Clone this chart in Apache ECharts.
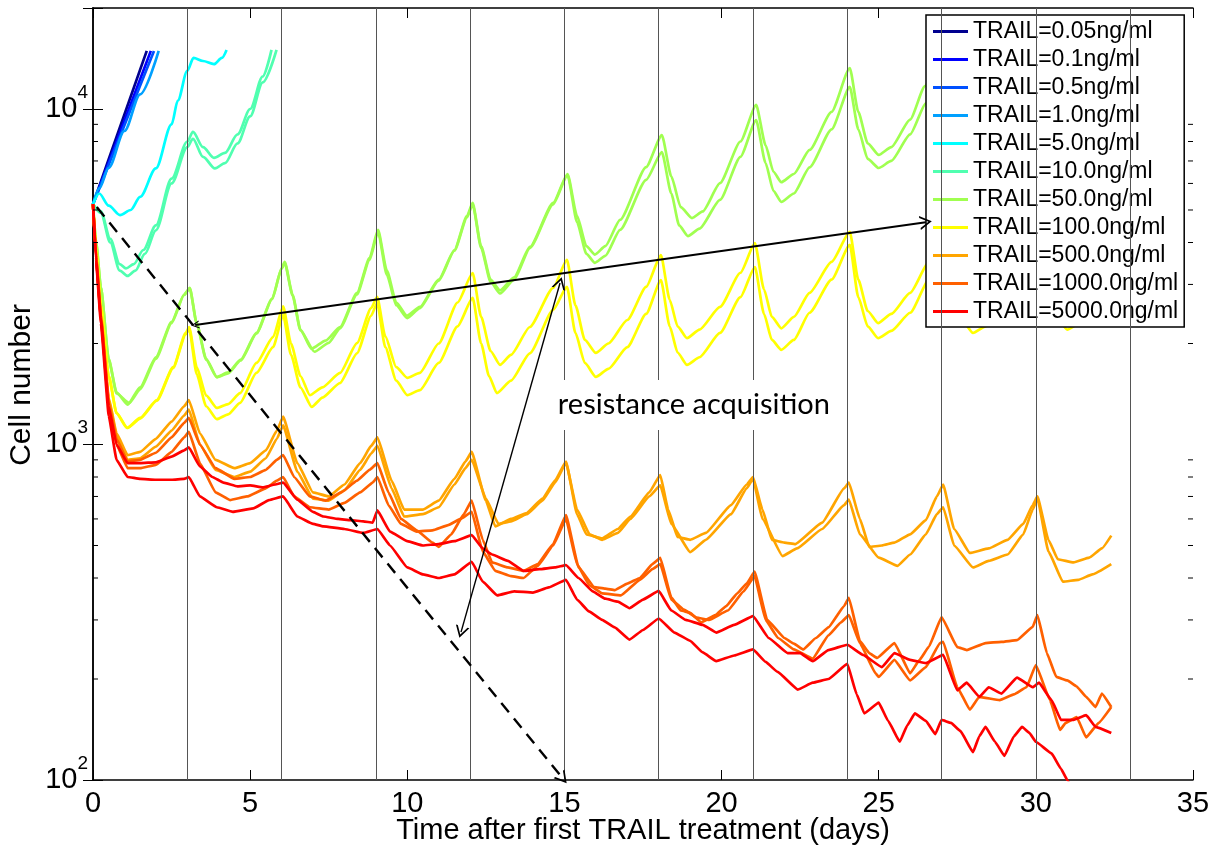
<!DOCTYPE html>
<html><head><meta charset="utf-8">
<script src="https://cdn.jsdelivr.net/npm/echarts@6/dist/echarts.min.js"></script>
<style>html,body{margin:0;padding:0;background:#fff}#c{width:1217px;height:845px}</style>
</head><body><div id="c"></div>
<script>
// ---------- labels / categories ----------
const legendNames = ['TRAIL=0.05ng/ml','TRAIL=0.1ng/ml','TRAIL=0.5ng/ml','TRAIL=1.0ng/ml','TRAIL=5.0ng/ml','TRAIL=10.0ng/ml','TRAIL=50.0ng/ml','TRAIL=100.0ng/ml','TRAIL=500.0ng/ml','TRAIL=1000.0ng/ml','TRAIL=5000.0ng/ml'];
const legendColors = ['#00008F','#0000FF','#0050FF','#00A0FF','#00FFFF','#50FFB0','#A0FF50','#FFFF00','#FFA500','#FF6000','#FF0000'];
const treatmentDays = [3,6,9,12,15,18,21,24,27,30,33];
const minorTickValues = [200,300,400,500,600,700,800,900,2000,3000,4000,5000,6000,7000,8000,9000];
const xTickInterval = 5;

// ---------- series values: [days, cell number] ----------
const trail005 = [[0,5200],[0.5,7080],[1.0,9630],[1.5,13100],[1.71,14900]];
const trail01  = [[0,5200],[0.5,6930],[1.0,9220],[1.5,12270],[1.84,14900]];
const trail05  = [[0,5200],[0.5,6820],[1.0,8950],[1.5,11740],[1.94,14900]];
const trail1   = [[0,5200],[0.2,5800],[0.5,6680],[1.0,8600],[1.5,11060],[2.09,14900]];
const trail5   = [[0,5200],[0.2,5600],[0.5,5150],[0.86,4830],[1.2,5000],[1.5,5470],[2.0,6650],[2.5,9000],[2.7,10600],[3.0,13000],[3.2,14200],[3.5,13900],[3.85,13600],[4.1,14200],[4.25,15000]];
const trail10a = [[0,5200],[0.25,4950],[0.55,4100],[0.85,3450],[1.05,3350],[1.3,3450],[1.6,3800],[2.0,4500],[2.5,6200],[3.0,8000],[3.18,8550],[3.5,7700],[3.85,7150],[4.2,7400],[4.6,8400],[5.0,10000],[5.4,12500],[5.68,15000]];
const trail10b = [[0,5200],[0.25,4900],[0.55,4000],[0.85,3300],[1.1,3180],[1.35,3300],[1.65,3700],[2.0,4350],[2.5,6000],[3.0,7700],[3.18,8150],[3.5,7200],[3.88,6650],[4.2,6900],[4.6,7900],[5.0,9500],[5.4,12000],[5.84,15000]];
const trail50a = [[0,5200],[0.1,4000],[0.25,2950],[0.5,1800],[0.75,1430],[1.1,1315],[1.5,1480],[2.0,1820],[2.5,2320],[2.9,2800],[3.08,2930],[3.3,2300],[3.6,1800],[3.94,1590],[4.3,1640],[4.7,1790],[5.2,2150],[5.7,2720],[6.0,3350],[6.1,3500],[6.35,2800],[6.6,2200],[6.95,1930],[7.4,2040],[7.86,2240],[8.4,2830],[8.8,3600],[9.07,4360],[9.35,3300],[9.65,2650],[9.99,2420],[10.4,2570],[11.0,3100],[11.5,3800],[11.9,4800],[12.08,5250],[12.35,3900],[12.65,3100],[12.95,2880],[13.4,3150],[13.9,3880],[14.64,5250],[15.1,6400],[15.4,4800],[15.7,3900],[15.97,3680],[16.3,3900],[16.77,4670],[17.6,6710],[18.1,8360],[18.4,6300],[18.7,5100],[19.06,4730],[19.4,4950],[19.95,6010],[20.6,8000],[21.1,10280],[21.4,7800],[21.65,6500],[21.9,6050],[22.3,6400],[22.8,7550],[23.5,9800],[24.08,13250],[24.35,9800],[24.65,7900],[25.0,7300],[25.4,7700],[26.0,9300],[26.47,11700],[26.9,15000]];
const trail50b = [[0,5200],[0.1,4000],[0.25,2950],[0.5,1790],[0.75,1420],[1.15,1330],[1.5,1460],[2.0,1800],[2.5,2300],[2.9,2790],[3.08,2920],[3.3,2290],[3.6,1790],[3.94,1585],[4.3,1630],[4.7,1780],[5.2,2140],[5.7,2710],[6.0,3340],[6.1,3480],[6.35,2780],[6.6,2190],[7.05,1890],[7.5,2010],[7.86,2220],[8.4,2800],[8.8,3550],[9.07,4300],[9.35,3200],[9.65,2600],[10.0,2380],[10.4,2550],[11.0,3080],[11.5,3780],[11.9,4750],[12.08,5200],[12.35,3850],[12.65,3050],[12.95,2820],[13.4,3100],[13.9,3850],[14.64,5200],[15.1,6350],[15.4,4600],[15.7,3700],[15.97,3480],[16.3,3650],[16.77,4360],[17.6,6150],[18.1,7440],[18.4,5600],[18.65,4500],[18.93,4180],[19.3,4400],[19.95,5360],[20.6,7200],[21.1,9270],[21.4,6900],[21.65,5700],[21.9,5285],[22.3,5600],[22.8,6700],[23.5,8700],[24.08,11640],[24.35,8700],[24.65,7100],[25.0,6670],[25.4,7000],[26.0,8400],[26.5,10400],[27.05,14000]];
const trail100a = [[0,5200],[0.1,3800],[0.25,2600],[0.5,1600],[0.75,1240],[1.08,1120],[1.5,1200],[2.03,1357],[2.55,1700],[2.95,2150],[3.06,2240],[3.3,1700],[3.6,1400],[3.94,1285],[4.3,1320],[4.68,1423],[5.2,1750],[5.73,2090],[6.05,2580],[6.3,2000],[6.6,1600],[6.9,1403],[7.3,1480],[7.86,1634],[8.4,2006],[8.85,2550],[9.04,2755],[9.3,2100],[9.65,1700],[10.0,1580],[10.4,1634],[11.0,2000],[11.6,2650],[12.08,3245],[12.35,2400],[12.65,1900],[12.95,1727],[13.3,1850],[13.9,2240],[14.64,2930],[15.08,3550],[15.35,2600],[15.65,2050],[16.0,1875],[16.4,2000],[17.0,2350],[17.6,2950],[18.07,3670],[18.35,2700],[18.6,2250],[18.9,2075],[19.3,2200],[19.95,2570],[20.6,3250],[21.06,3985],[21.35,2900],[21.6,2400],[21.9,2220],[22.3,2400],[22.8,2830],[23.5,3500],[24.08,4300],[24.35,3100],[24.65,2500],[24.98,2300],[25.4,2450],[26.0,2830],[26.6,3500],[27.08,4500],[27.35,3300],[27.65,2700],[28.0,2450],[28.4,2600],[29.0,3000],[29.6,3700],[30.08,4700],[30.35,3400],[30.65,2800],[31.0,2550],[31.4,2700],[32.0,3100],[32.4,3400]];
const trail100b = [[0,5200],[0.1,3800],[0.25,2600],[0.5,1600],[0.75,1240],[1.1,1120],[1.5,1195],[2.03,1350],[2.55,1690],[2.95,2130],[3.06,2210],[3.3,1620],[3.6,1300],[3.94,1190],[4.3,1230],[4.68,1330],[5.2,1635],[5.73,1950],[6.05,2430],[6.3,1850],[6.6,1480],[6.96,1294],[7.3,1380],[7.86,1525],[8.4,1870],[8.85,2420],[9.04,2640],[9.3,1950],[9.65,1550],[10.0,1403],[10.4,1452],[11.0,1750],[11.6,2250],[12.08,2735],[12.35,2000],[12.6,1600],[12.85,1423],[13.3,1550],[13.9,1870],[14.64,2520],[15.08,2950],[15.35,2150],[15.65,1750],[16.0,1590],[16.4,1680],[17.0,1950],[17.6,2450],[18.07,3090],[18.35,2250],[18.6,1880],[18.9,1727],[19.3,1820],[19.95,2150],[20.6,2750],[21.06,3380],[21.35,2450],[21.6,2050],[21.9,1915],[22.3,2050],[22.8,2470],[23.5,3100],[24.08,3935],[24.35,2750],[24.65,2250],[24.98,2075],[25.4,2180],[26.0,2470],[26.6,3100],[27.08,3900],[27.35,2850],[27.65,2350],[28.0,2150],[28.4,2250],[29.0,2600],[29.6,3200],[30.08,4100],[30.35,2950],[30.65,2400],[31.0,2200],[31.4,2300],[32.0,2650],[32.4,2900]];
const trail500a = [[0,5200],[0.1,3650],[0.25,2450],[0.5,1380],[0.75,1080],[1.1,930],[1.5,950],[2.0,1040],[2.5,1170],[2.9,1300],[3.05,1357],[3.4,1080],[3.9,900],[4.5,850],[5.0,880],[5.5,960],[5.85,1100],[6.05,1210],[6.5,880],[7.0,720],[7.5,700],[8.0,760],[8.5,880],[8.85,990],[9.05,1050],[9.5,780],[9.9,640],[10.5,640],[11.0,680],[11.5,790],[11.85,890],[12.05,950],[12.5,680],[12.8,570],[13.3,600],[13.8,625],[14.3,690],[14.7,780],[15.05,890],[15.4,620],[15.7,540],[16.2,525],[16.7,560],[17.1,610],[17.7,720],[18.05,811],[18.3,640],[18.6,530],[19.0,520],[19.5,545],[20.3,660],[20.8,760],[21.0,800],[21.3,640],[21.6,520],[22.0,510],[22.35,505],[23.2,585],[23.9,740],[24.05,770],[24.4,600],[24.7,495],[25.1,500],[25.5,510],[26.0,540],[26.5,595],[26.85,700],[27.05,760],[27.4,560],[27.9,475],[28.5,490],[29.1,520],[29.6,580],[29.9,660],[30.05,700],[30.4,520],[30.7,455],[31.2,445],[31.7,460],[32.1,490],[32.4,535]];
const trail500b = [[0,5200],[0.1,3650],[0.25,2440],[0.5,1360],[0.75,1060],[1.1,900],[1.5,910],[2.0,985],[2.5,1100],[2.9,1220],[3.05,1270],[3.4,1000],[3.9,840],[4.5,800],[5.0,830],[5.5,910],[5.85,1040],[6.05,1140],[6.5,830],[7.0,690],[7.5,680],[8.0,730],[8.5,840],[8.85,940],[9.05,990],[9.5,740],[9.9,610],[10.5,620],[11.0,650],[11.5,760],[11.85,850],[12.05,900],[12.5,690],[12.9,580],[13.3,590],[13.8,620],[14.3,680],[14.7,770],[15.05,880],[15.4,640],[15.8,540],[16.2,520],[16.7,545],[17.1,600],[17.7,700],[18.05,755],[18.4,580],[19.0,478],[19.5,520],[20.3,620],[20.8,740],[21.0,790],[21.3,600],[21.94,465],[22.4,490],[23.2,560],[23.9,660],[24.05,685],[24.4,540],[25.0,460],[25.6,435],[26.0,470],[26.5,540],[26.85,620],[27.05,650],[27.4,500],[28.0,430],[28.5,450],[29.1,470],[29.6,540],[29.9,640],[30.05,690],[30.4,480],[30.86,390],[31.35,395],[31.8,410],[32.4,440]];
const trail1000a = [[0,5200],[0.1,3600],[0.25,2420],[0.5,1340],[0.75,1040],[1.1,890],[1.5,900],[2.0,945],[2.5,1050],[2.9,1160],[3.05,1200],[3.4,1000],[3.9,850],[4.5,790],[5.0,800],[5.5,840],[5.85,900],[6.05,930],[6.4,800],[6.9,700],[7.4,680],[7.9,720],[8.4,780],[8.8,840],[9.05,880],[9.4,720],[9.8,600],[10.3,555],[10.8,510],[11.0,495],[11.4,540],[11.8,620],[12.05,680],[12.4,520],[12.7,445],[13.2,430],[13.7,420],[14.15,440],[14.64,505],[15.05,616],[15.45,430],[15.95,376],[16.3,372],[16.6,368],[17.0,385],[17.4,400],[17.8,440],[18.05,459],[18.4,350],[18.7,320],[19.0,315],[19.35,295],[19.8,310],[20.15,330],[20.5,360],[20.8,385],[21.05,418],[21.45,300],[22.0,265],[22.3,255],[22.6,245],[23.0,265],[23.4,285],[23.9,330],[24.05,349],[24.4,260],[24.7,239],[24.95,231],[25.5,256],[26.0,208],[26.3,228],[26.6,250],[27.0,306],[27.5,249],[27.8,244],[28.4,256],[28.9,258],[29.4,261],[29.9,286],[30.05,310],[30.35,239],[30.65,203],[31.0,198],[31.3,190],[31.6,177],[31.9,165],[32.1,181],[32.4,165]];
const trail1000b = [[0,5200],[0.1,3600],[0.25,2400],[0.5,1310],[0.75,1000],[1.1,850],[1.5,850],[2.0,870],[2.5,950],[2.9,1050],[3.05,1090],[3.4,880],[3.9,720],[4.36,683],[4.9,700],[5.5,740],[5.85,780],[6.05,800],[6.4,700],[6.9,650],[7.5,640],[8.0,670],[8.5,720],[8.9,770],[9.05,800],[9.4,660],[9.8,580],[10.3,550],[10.8,555],[11.3,575],[11.7,600],[12.05,630],[12.4,480],[12.8,420],[13.3,405],[13.7,400],[14.15,435],[14.64,500],[15.05,600],[15.4,440],[15.8,380],[16.2,360],[16.8,355],[17.4,395],[17.8,425],[18.05,440],[18.4,345],[18.8,322],[19.2,305],[19.6,300],[20.2,320],[20.7,365],[21.05,405],[21.4,300],[21.8,265],[22.3,245],[22.9,230],[23.4,270],[23.8,295],[24.05,310],[24.4,256],[24.9,208],[25.0,203],[25.5,228],[26.0,198],[26.5,217],[26.95,256],[27.05,258],[27.5,189],[27.9,162],[28.2,177],[28.85,173],[29.3,180],[29.7,189],[30.0,220],[30.45,173],[30.77,141],[30.95,148],[31.3,154],[31.6,134],[32.0,148],[32.4,165]];
const trail5000a = [[0,5200],[0.1,3550],[0.25,2380],[0.5,1300],[0.75,1000],[1.1,880],[1.5,880],[2.0,885],[2.5,920],[2.9,960],[3.05,980],[3.4,860],[3.8,800],[4.15,770],[4.6,750],[5.0,755],[5.4,745],[5.8,760],[6.05,770],[6.5,685],[7.0,630],[7.33,610],[7.8,600],[8.2,595],[8.6,590],[8.9,585],[9.05,636],[9.45,550],[10.0,515],[10.5,500],[11.0,505],[11.5,515],[12.05,537],[12.4,490],[12.7,470],[13.2,450],[13.7,420],[14.2,425],[14.7,430],[15.05,437],[15.45,400],[15.9,365],[16.3,347],[16.7,340],[17.07,325],[17.5,345],[18.0,366],[18.4,320],[18.86,300],[19.4,290],[19.83,275],[20.4,290],[21.0,308],[21.5,265],[22.1,239],[22.5,239],[22.9,226],[23.4,244],[24.0,253],[24.5,236],[25.1,217],[25.5,239],[26.0,228],[26.5,223],[27.05,236],[27.5,185],[27.8,195],[28.2,177],[28.5,189],[28.9,181],[29.4,202],[29.9,189],[30.1,195],[30.5,173],[30.8,151],[31.2,151],[31.6,156],[31.9,144],[32.4,138]];
const trail5000b = [[0,5200],[0.1,3500],[0.25,2300],[0.5,1220],[0.75,900],[1.1,800],[1.5,790],[2.0,785],[2.5,785],[2.9,790],[3.05,800],[3.4,700],[3.94,650],[4.45,630],[5.1,645],[5.6,683],[6.05,700],[6.5,610],[7.0,580],[7.33,570],[8.0,560],[8.6,545],[9.05,560],[9.45,500],[10.0,430],[10.5,410],[11.0,400],[11.5,410],[12.05,447],[12.4,390],[12.86,355],[13.4,365],[14.0,362],[14.5,375],[15.05,395],[15.4,345],[15.78,318],[16.2,300],[16.6,285],[17.07,262],[17.5,280],[18.0,303],[18.5,275],[19.0,260],[19.4,240],[19.83,226],[20.4,235],[21.0,245],[21.4,225],[21.78,210],[22.43,186],[22.9,195],[23.4,200],[24.0,222],[24.3,180],[24.54,158],[25.0,170],[25.3,150],[25.67,130],[25.9,145],[26.15,158],[26.5,150],[26.8,137],[27.0,151],[27.3,148],[27.6,140],[28.0,121],[28.2,135],[28.4,144],[28.7,130],[29.0,118],[29.3,135],[29.56,144],[29.8,138],[30.0,130],[30.5,120],[30.8,108],[31.0,100],[31.3,88]];

// annotation anchors in data units [days, cells]
const solidArrow = [[3.25,2270],[26.5,4600]];
const acquisitionArrow = [[14.86,3030],[11.71,276]];
const dashedArrow = [[0.12,5100],[14.95,101]];
const annotationText = {text:'resistance acquisition', at:[19.12,1312]};

// [data, colour index, smooth]
const curves = [
  [trail005,0,0],[trail01,1,0],[trail05,2,0],[trail1,3,0.3],[trail5,4,0.3],[trail10a,5,0.3],[trail10b,5,0.3],
  [trail50a,6,0.2],[trail50b,6,0.2],[trail100a,7,0.2],[trail100b,7,0.2],[trail500a,8,0.12],[trail500b,8,0.12],
  [trail1000a,9,0.1],[trail1000b,9,0.1],[trail5000a,10,0.1],[trail5000b,10,0.1]
];

const FONT = 'Liberation Sans';
const chevron = 'path://M0,10 L5,0 L10,10 L8.6,10 L5,2.8 L1.4,10 Z';

const series = curves.map(([d,i,s]) => ({
  type:'line', name: legendNames[i], data: d, showSymbol:false, symbol:'none',
  smooth: s, smoothMonotone:'x',
  lineStyle:{color:legendColors[i], width:2.7}, itemStyle:{color:legendColors[i]},
  z:3, animation:false, clip:true
}));

// treatment lines
series.unshift({
  type:'line', name:'_days', data:[], silent:true, z:1, animation:false,
  markLine:{silent:true, symbol:['none','none'], animation:false, label:{show:false},
    lineStyle:{color:'#555', width:1, type:'solid'},
    data: treatmentDays.map(d => ({xAxis:d}))}
});

// minor log ticks
series.push({
  type:'custom', name:'_minor', silent:true, z:6, animation:false, clip:false,
  data: minorTickValues.map(v => [0, v]),
  renderItem: (params, api) => {
    const y = api.coord([0, api.value(1)])[1];
    const cs = params.coordSys; const x0 = cs.x, x1 = cs.x + cs.width;
    return {type:'group', children:[
      {type:'line', shape:{x1:x0, y1:y, x2:x0+5, y2:y}, style:{stroke:'#000', lineWidth:1}},
      {type:'line', shape:{x1:x1, y1:y, x2:x1-5, y2:y}, style:{stroke:'#000', lineWidth:1}}
    ]};
  }
});

// annotations
series.push({
  type:'line', name:'_ann', data:[], silent:true, z:8, animation:false,
  markLine:{silent:true, animation:false, label:{show:false}, symbolSize:14,
    lineStyle:{color:'#000', width:2, type:'solid'},
    data:[
      [{coord:solidArrow[0], symbol:chevron, symbolSize:[8,8]}, {coord:solidArrow[1], symbol:chevron, symbolSize:[14,12]}],
      [{coord:acquisitionArrow[0], symbol:chevron, symbolSize:[14,12], lineStyle:{width:1.4}}, {coord:acquisitionArrow[1], symbol:chevron, symbolSize:[14,12], lineStyle:{width:1.4}}],
      [{coord:dashedArrow[0], symbol:'none', lineStyle:{type:[12,8], width:2.4}}, {coord:dashedArrow[1], symbol:chevron, symbolSize:[14,12], lineStyle:{type:[12,8], width:2.4}}]
    ]},
  markPoint:{silent:true, animation:false, symbol:'rect', symbolSize:[300,50],
    itemStyle:{color:'#fff'},
    label:{show:true, position:'inside', color:'#000', fontFamily:'Lato', fontSize:29, formatter: annotationText.text},
    data:[{coord: annotationText.at}]}
});

const yFmt = v => {
  const l = Math.log10(v), e = Math.round(l);
  if (Math.abs(l - e) > 1e-6) return '';
  return '{b|10}{e|' + e + '}';
};

const axisLineStyle = {lineStyle:{color:'#000', width:1.5}};
const option = {
  animation:false,
  backgroundColor:'#fff',
  grid:{left:93, right:24, top:8, bottom:65, containLabel:false, outerBoundsMode:'none'},
  legend:{
    data: legendNames, orient:'vertical', left:926, top:15,
    icon:'rect', itemWidth:35, itemHeight:3, itemGap:5,
    textStyle:{fontFamily:FONT, fontSize:23, color:'#000'},
    backgroundColor:'#fff', borderColor:'#000', borderWidth:1.5, borderRadius:0,
    padding:[5,6,4,7], selectedMode:false
  },
  xAxis:[
    {type:'value', min:0, max:35, interval:xTickInterval, position:'bottom',
     axisLine:axisLineStyle, axisTick:{inside:true, length:10, lineStyle:{color:'#000', width:1}},
     axisLabel:{fontFamily:FONT, fontSize:29, color:'#000', margin:9},
     splitLine:{show:false},
     name:'Time after first TRAIL treatment (days)', nameLocation:'middle', nameGap:36, nameMoveOverlap:false,
     nameTextStyle:{fontFamily:FONT, fontSize:29, color:'#000'}},
    {type:'value', min:0, max:35, interval:xTickInterval, position:'top',
     axisLine:axisLineStyle, axisTick:{inside:true, length:10, lineStyle:{color:'#000', width:1}},
     axisLabel:{show:false}, splitLine:{show:false}}
  ],
  yAxis:[
    {type:'log', logBase:10, min:100, max:20000, position:'left',
     axisLine:axisLineStyle, axisTick:{inside:true, length:10, lineStyle:{color:'#000', width:1}},
     axisLabel:{formatter:yFmt, margin:5, rich:{
       b:{fontFamily:FONT, fontSize:29, color:'#000', lineHeight:52},
       e:{fontFamily:FONT, fontSize:19, color:'#000', lineHeight:19, verticalAlign:'top'}}},
     splitLine:{show:false}, minorTick:{show:false},
     name:'Cell number', nameLocation:'middle', nameGap:56, nameMoveOverlap:false,
     nameTextStyle:{fontFamily:FONT, fontSize:30, color:'#000', padding:[0,0,0,18]}},
    {type:'log', logBase:10, min:100, max:20000, position:'right',
     axisLine:axisLineStyle, axisTick:{inside:true, length:10, lineStyle:{color:'#000', width:1}},
     axisLabel:{show:false}, splitLine:{show:false}}
  ],
  series
};
const chart = echarts.init(document.getElementById('c'), null, {renderer:'canvas'});
chart.setOption(option);
</script></body></html>
